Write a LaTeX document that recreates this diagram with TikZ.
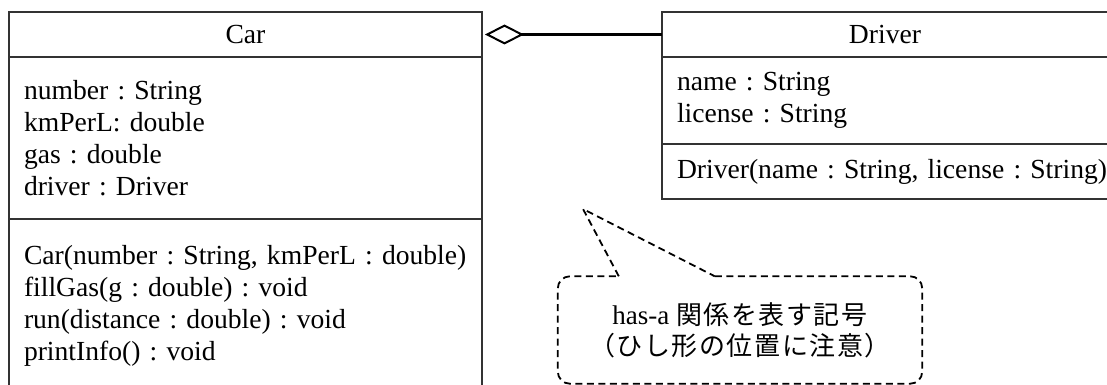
\documentclass[tikz,border=0pt]{standalone}
\usepackage{fontspec}
\setmainfont{Liberation Serif}
\newfontfamily\cjk[LetterSpace=6]{Noto Sans CJK JP}
\usetikzlibrary{arrows.meta,calc}
\frenchspacing
\begin{document}
\begin{tikzpicture}[x=1pt,y=-1pt,
  comp/.style={draw=black!80, line width=1.3pt, anchor=north west,
    inner xsep=15pt, inner ysep=0pt, outer sep=0pt,
    font=\fontsize{27.6}{32}\selectfont\frenchspacing},
  comptitle/.style={comp, align=center},
  compbody/.style={comp, align=left},
  aggr/.style={line width=2.4pt, black,
    -{Diamond[open, length=39pt, width=20pt, line width=2pt]}},
  notebox/.style={dashed, line width=1.8pt, dash pattern=on 7pt off 4.5pt},
  notetext/.style={inner sep=0pt, align=center, font=\fontsize{27}{31}\selectfont}]
\useasboundingbox (0,0) rectangle (1107,385);
% Car class
\node[comptitle, text width=443pt, minimum height=45pt] (cartitle) at (9,12) {Car};
\node[compbody, text width=443pt, minimum height=162pt] (carattr) at (cartitle.south west)
  {number : String\\kmPerL: double\\gas : double\\driver : Driver};
\node[compbody, text width=443pt, minimum height=173pt] (carops) at (carattr.south west)
  {\mbox{Car(number : String, kmPerL : double)}\\fillGas(g : double) : void\\run(distance : double) : void\\printInfo() : void};
% Driver class
\node[comptitle, text width=416pt, minimum height=45pt] (drvtitle) at (662,12) {Driver};
\node[compbody, text width=416pt, minimum height=87pt] (drvattr) at (drvtitle.south west)
  {name : String\\license : String};
\node[compbody, text width=416pt, minimum height=55pt] (drvops) at (drvattr.south west)
  {\mbox{Driver(name : String, license : String)}};
% aggregation
\coordinate (diamtip) at ($(cartitle.east)+(3,0)$);
\draw[aggr] (drvtitle.west) -- (diamtip);
% note
\node[notetext, minimum width=364pt, minimum height=107pt] (note) at (740,330)
  {has-a {\cjk\fontsize{26}{31}\selectfont 関係を表す記号}\\
   {\cjk\fontsize{26}{31}\selectfont （ひし形の位置に注意）}};
\coordinate (tip) at (583,209);
\coordinate (baseL) at ($(note.north west)+(61,0)$);
\coordinate (baseR) at ($(note.north west)+(157,0)$);
\draw[notebox, rounded corners=12pt] (baseR) -- (note.north east) -- (note.south east)
  -- (note.south west) -- (note.north west) -- (baseL);
\draw[notebox] (baseL) -- (tip) -- (baseR);
\end{tikzpicture}
\end{document}
